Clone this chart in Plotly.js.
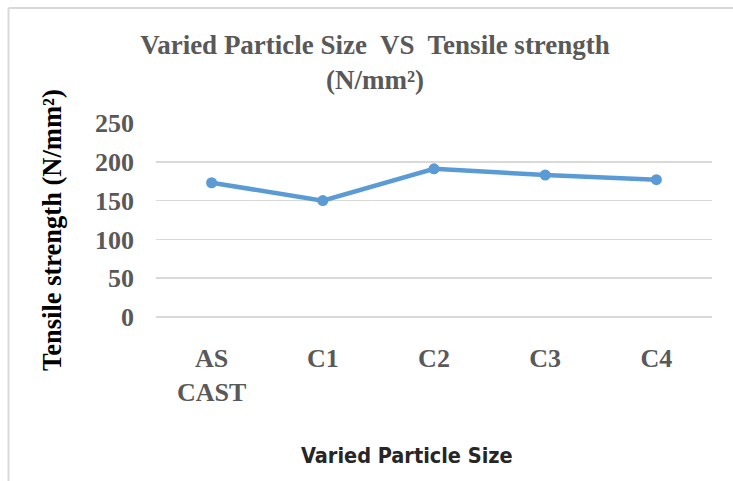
<!DOCTYPE html>
<html>
<head>
<meta charset="utf-8">
<script src="https://cdn.plot.ly/plotly-3.0.1.min.js"></script>
<style>html,body{margin:0;padding:0;background:#fff;}#chart{width:733px;height:481px;}</style>
</head>
<body>
<div id="chart"></div>
<script>
const categories = ["AS<br>CAST", "C1", "C2", "C3", "C4"];
const tensileStrength = [173, 150, 191, 183, 177];
const yTickValues = [0, 50, 100, 150, 200, 250];
const yTickLabels = ["0", "50", "100", "150", "200", "250"];

const W = 733, H = 481;
const L = 156, R = 21, T = 123, B = 164;
const pw = W - L - R, ph = H - T - B;
const px = v => (v - L) / pw;
const py = v => (H - B - v) / ph;

const serif = "'Liberation Serif', 'Times New Roman', serif";

const trace = {
  type: "scatter",
  mode: "lines+markers",
  x: categories,
  y: tensileStrength,
  line: {color: "#5B9BD5", width: 4.5},
  marker: {color: "#5B9BD5", size: 11},
  hoverinfo: "x+y"
};

const layout = {
  width: W, height: H,
  margin: {l: L, r: R, t: T, b: B},
  paper_bgcolor: "#ffffff",
  plot_bgcolor: "#ffffff",
  showlegend: false,
  title: {
    text: "Varied Particle Size  VS  Tensile strength<br>(N/mm²)",
    font: {family: serif, size: 27, color: "#595959", weight: "bold"},
    xref: "container", x: 375 / W, xanchor: "center",
    yref: "container", y: 1 - 54 / H, yanchor: "top"
  },
  xaxis: {
    type: "category",
    range: [-0.5, 4.5],
    showgrid: false,
    zeroline: false,
    showline: false,
    ticks: "",
    tickfont: {family: serif, size: 26, color: "#595959", weight: "bold"},
    ticklabelstandoff: 23,
    fixedrange: true
  },
  yaxis: {
    range: [0, 250],
    tickvals: yTickValues,
    ticktext: yTickLabels,
    showgrid: true,
    gridcolor: "#d9d9d9",
    gridwidth: 1.5,
    zeroline: true,
    zerolinecolor: "#d9d9d9",
    zerolinewidth: 1.5,
    showline: false,
    ticks: "",
    tickfont: {family: serif, size: 26, color: "#595959", weight: "bold"},
    ticklabelstandoff: 21,
    fixedrange: true
  },
  annotations: [
    {
      text: "Tensile strength (N/mm²)",
      textangle: -90,
      xref: "paper", yref: "paper",
      x: px(52), y: py(230),
      xanchor: "center", yanchor: "middle",
      showarrow: false,
      font: {family: serif, size: 26.5, color: "#000000", weight: "bold"}
    },
    {
      text: "Varied Particle Size",
      xref: "paper", yref: "paper",
      x: px(407), y: py(455),
      xanchor: "center", yanchor: "middle",
      showarrow: false,
      font: {family: "'DejaVu Sans Condensed', 'Liberation Sans Narrow', sans-serif", size: 21.5, color: "#262626", weight: "bold"}
    }
  ],
  shapes: [
    {type: "line", xref: "paper", yref: "paper", x0: px(8.5), x1: px(8.5), y0: py(8), y1: py(490), line: {color: "#d9d9d9", width: 2}},
    {type: "line", xref: "paper", yref: "paper", x0: px(8.5), x1: px(740), y0: py(8), y1: py(8), line: {color: "#d9d9d9", width: 2}}
  ]
};

Plotly.newPlot("chart", [trace], layout, {displayModeBar: false, staticPlot: true});
</script>
</body>
</html>
